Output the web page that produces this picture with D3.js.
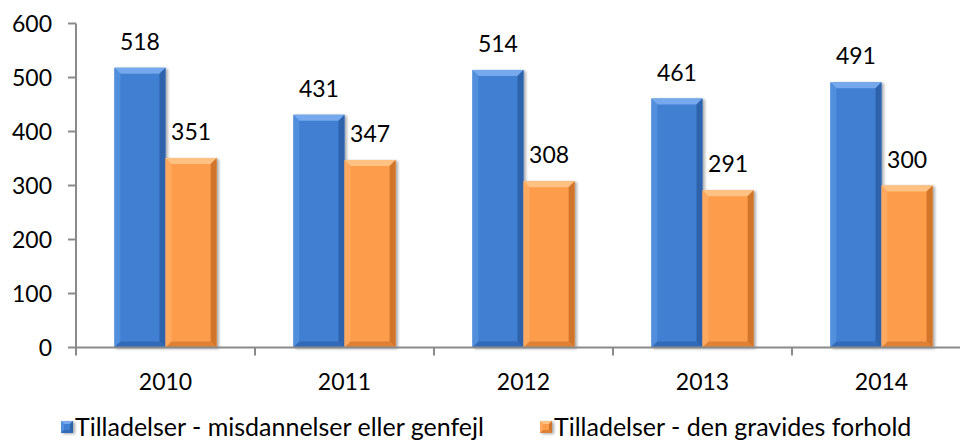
<!DOCTYPE html>
<html><head><meta charset="utf-8">
<script src="https://cdn.jsdelivr.net/npm/d3@7"></script>
<style>body{margin:0;background:#fff}svg{display:block}text{font-family:Lato,"Open Sans",sans-serif;fill:#000}</style>
</head><body><svg id="c" width="960" height="446"></svg>
<script>
const years = ["2010","2011","2012","2013","2014"];
const misdannelser = [518, 431, 514, 461, 491];
const gravides = [351, 347, 308, 291, 300];
const seriesNames = ["Tilladelser - misdannelser eller genfejl","Tilladelser - den gravides forhold"];
const yTicks = [0,100,200,300,400,500,600];

const svg = d3.select("#c");
const x0 = 76, yTop = 23.5, yBot = 347.5, band = 179;
const x = d3.scaleBand().domain(years).range([x0, x0 + band*years.length]).paddingInner(0).paddingOuter(0);
const y = d3.scaleLinear().domain([0,600]).range([yBot, yTop]);
const bw = x.bandwidth()/3.5;

const pal = [
  {face:"#3f7fd2", top:"#74a8ec", left:"#5a94e0", right:"#2b5fa6", bot:"#2f65b0"},
  {face:"#fd9c4c", top:"#ffc283", left:"#ffae66", right:"#c86d25", bot:"#d67a30"}
];
const defs = svg.append("defs");
const f = defs.append("filter").attr("id","sh").attr("x","-20%").attr("y","-20%").attr("width","150%").attr("height","140%");
f.append("feGaussianBlur").attr("in","SourceAlpha").attr("stdDeviation",1.5).attr("result","b");
f.append("feOffset").attr("dx",2).attr("dy",1).attr("result","o");
f.append("feComponentTransfer").append("feFuncA").attr("type","linear").attr("slope",0.35);
const m = f.append("feMerge"); m.append("feMergeNode"); m.append("feMergeNode").attr("in","SourceGraphic");

function bevelBar(g, xl, w, yt, yb, c, bev){
  const b = Math.min(bev, (yb-yt)/2);
  const gg = g.append("g").attr("filter","url(#sh)");
  gg.append("rect").attr("x",xl).attr("y",yt).attr("width",w).attr("height",yb-yt).attr("fill",c.face);
  const P = pts => pts.map(p=>p.join(",")).join(" ");
  gg.append("polygon").attr("points",P([[xl,yt],[xl+w,yt],[xl+w-b,yt+b],[xl+b,yt+b]])).attr("fill",c.top);
  gg.append("polygon").attr("points",P([[xl,yt],[xl+b,yt+b],[xl+b,yb-b],[xl,yb]])).attr("fill",c.left).attr("opacity",0.7);
  gg.append("polygon").attr("points",P([[xl+w,yt],[xl+w,yb],[xl+w-b,yb-b],[xl+w-b,yt+b]])).attr("fill",c.right).attr("opacity",0.85);
  gg.append("polygon").attr("points",P([[xl,yb],[xl+w,yb],[xl+w-b,yb-b],[xl+b,yb-b]])).attr("fill",c.bot).attr("opacity",0.8);
}

const ser = [misdannelser, gravides];
const bars = svg.append("g");
years.forEach((yr,i)=>{
  ser.forEach((vals,s)=>{
    const xl = x(yr) + x.bandwidth()/2 - bw + s*bw;
    bevelBar(bars, xl, bw, y(vals[i]), y(0), pal[s], 6);
    svg.append("text").attr("x", xl + bw/2).attr("y", y(vals[i]) - 18)
      .attr("text-anchor","middle").attr("font-size",23).text(vals[i]);
  });
});

// axes
const ax = svg.append("g").attr("stroke","#8a8a8a").attr("stroke-width",2);
ax.append("line").attr("x1",x0).attr("x2",x0).attr("y1",yTop).attr("y2",yBot+8);
ax.append("line").attr("x1",x0).attr("x2",960).attr("y1",yBot).attr("y2",yBot);
yTicks.forEach(t=>{
  ax.append("line").attr("x1",x0-8).attr("x2",x0).attr("y1",y(t)).attr("y2",y(t));
  svg.append("text").attr("x",52).attr("y",y(t)).attr("dy","0.36em").attr("text-anchor","end").attr("font-size",23).text(t);
});
years.forEach((yr,i)=>{
  ax.append("line").attr("x1",x(yr)+band).attr("x2",x(yr)+band).attr("y1",yBot).attr("y2",yBot+8);
  svg.append("text").attr("x",x(yr)+band/2).attr("y",390).attr("text-anchor","middle").attr("font-size",23).text(yr);
});

// legend
const lg = svg.append("g");
const lx = [61, 540];
seriesNames.forEach((n,s)=>{
  bevelBar(lg, lx[s], 12, 421, 433, pal[s], 3);
  lg.append("text").attr("x",lx[s]+14).attr("y",436).attr("font-size",25).text(n);
});
</script></body></html>
